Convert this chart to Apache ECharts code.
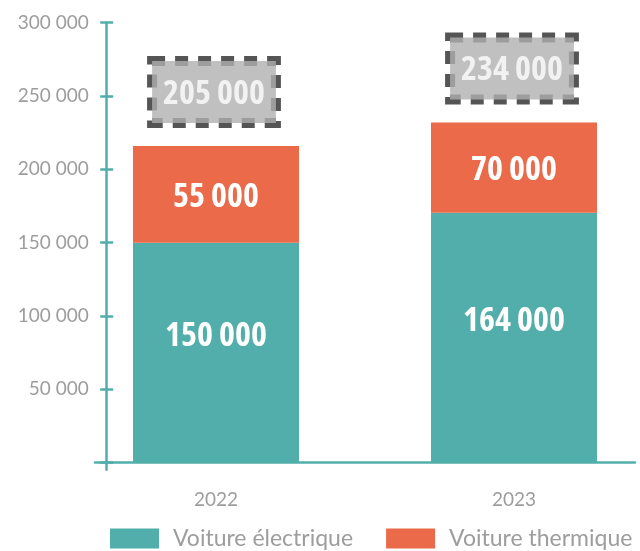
<!DOCTYPE html>
<html><head><meta charset="utf-8">
<script src="https://cdn.jsdelivr.net/npm/echarts@6/dist/echarts.min.js"></script>
<style>html,body{margin:0;padding:0;background:#fff}#c{width:640px;height:551px}</style>
</head><body><div id="c"></div>
<script>
const categories = ['2022', '2023'];
const electrique = [150000, 170500];
const thermique = [66000, 61500];
const electriqueLabels = ['150 000', '164 000'];
const thermiqueLabels = ['55 000', '70 000'];
const totalLabels = ['205 000', '234 000'];
const seriesNames = ['Voiture électrique', 'Voiture thermique'];
const yMin = 0, yMax = 300000, yStep = 50000;

const teal = '#52aeaa', orange = '#ea6a4a', textGray = '#9d9d9d';
const lightFont = 'Lato, "Open Sans", sans-serif';
const boldFont = '"Open Sans", sans-serif';
const boldWeight = 'bold condensed';
const fmt = v => String(v).replace(/\B(?=(\d{3})+(?!\d))/g, ' ');
const axisLineStyle = {color: teal, width: 2.5};

const chart = echarts.init(document.getElementById('c'), null, {renderer: 'canvas'});
const valueLabel = (arr) => ({
  show: true, position: 'inside', color: '#fff', fontSize: 34, fontWeight: boldWeight,
  fontFamily: boldFont, formatter: p => arr[p.dataIndex]
});
const yBase = {type: 'value', min: yMin, max: yMax, interval: yStep, splitLine: {show: false}};
chart.setOption({
  animation: false,
  grid: [
    {left: 67, width: 596, top: 22.7, bottom: 88.3, outerBoundsMode: 'none', containLabel: false},
    {left: 95, right: 5, top: 22.7, bottom: 88.3, outerBoundsMode: 'none', containLabel: false}
  ],
  xAxis: [{
    type: 'category', gridIndex: 0, data: categories,
    axisLine: {show: false}, axisTick: {show: false},
    axisLabel: {color: textGray, fontSize: 19, fontFamily: lightFont, margin: 28}
  }, {
    type: 'value', gridIndex: 1, min: 0, max: 1,
    axisLine: {show: true, onZero: false, lineStyle: axisLineStyle},
    splitLine: {show: false}, axisLabel: {show: false},
    axisTick: {show: true, customValues: [0.0217], length: 8, lineStyle: axisLineStyle}
  }],
  yAxis: [Object.assign({}, yBase, {
    gridIndex: 0, show: false
  }), Object.assign({}, yBase, {
    gridIndex: 1, position: 'left', offset: -11.7,
    axisLine: {show: true, onZero: false, lineStyle: axisLineStyle},
    axisTick: {show: true, length: 6.5, lineStyle: axisLineStyle},
    axisLabel: {formatter: v => v === 0 ? '' : fmt(v), color: textGray, fontSize: 19,
      fontFamily: lightFont, margin: 18}
  }), Object.assign({}, yBase, {
    gridIndex: 1, position: 'left', offset: -11.7,
    axisLine: {show: false, onZero: false},
    axisTick: {show: true, inside: true, length: 6.5, lineStyle: axisLineStyle},
    axisLabel: {show: false}
  })],
  legend: {
    data: seriesNames, left: 110, top: 527, padding: 0, itemWidth: 49, itemHeight: 20, itemGap: 33,
    icon: 'rect',
    textStyle: {color: textGray, fontSize: 23, fontFamily: lightFont, padding: [0, 0, 0, 9]}
  },
  series: [{
    name: seriesNames[0], type: 'bar', stack: 'total', barWidth: 166, xAxisIndex: 0, yAxisIndex: 0,
    data: electrique,
    itemStyle: {color: teal},
    label: Object.assign(valueLabel(electriqueLabels), {offset: [0, -16]})
  }, {
    name: seriesNames[1], type: 'bar', stack: 'total', barWidth: 166, xAxisIndex: 0, yAxisIndex: 0,
    data: thermique,
    itemStyle: {color: orange},
    label: Object.assign(valueLabel(thermiqueLabels), {offset: [0, 3]})
  }, {
    name: 'Total', type: 'scatter', symbolSize: 0, silent: true, xAxisIndex: 0, yAxisIndex: 0,
    data: categories.map((c, i) => electrique[i] + thermique[i]),
    label: {
      show: true, position: 'top', distance: 23, offset: [-2, 0], color: '#fff', fontSize: 34,
      fontWeight: boldWeight, fontFamily: boldFont, lineHeight: 36,
      formatter: p => totalLabels[p.dataIndex],
      backgroundColor: '#b0b0b0', borderColor: '#2b2b2b', borderWidth: 5, borderType: [13, 10],
      padding: [15, 11, 11, 11]
    }
  }]
});
</script></body></html>
